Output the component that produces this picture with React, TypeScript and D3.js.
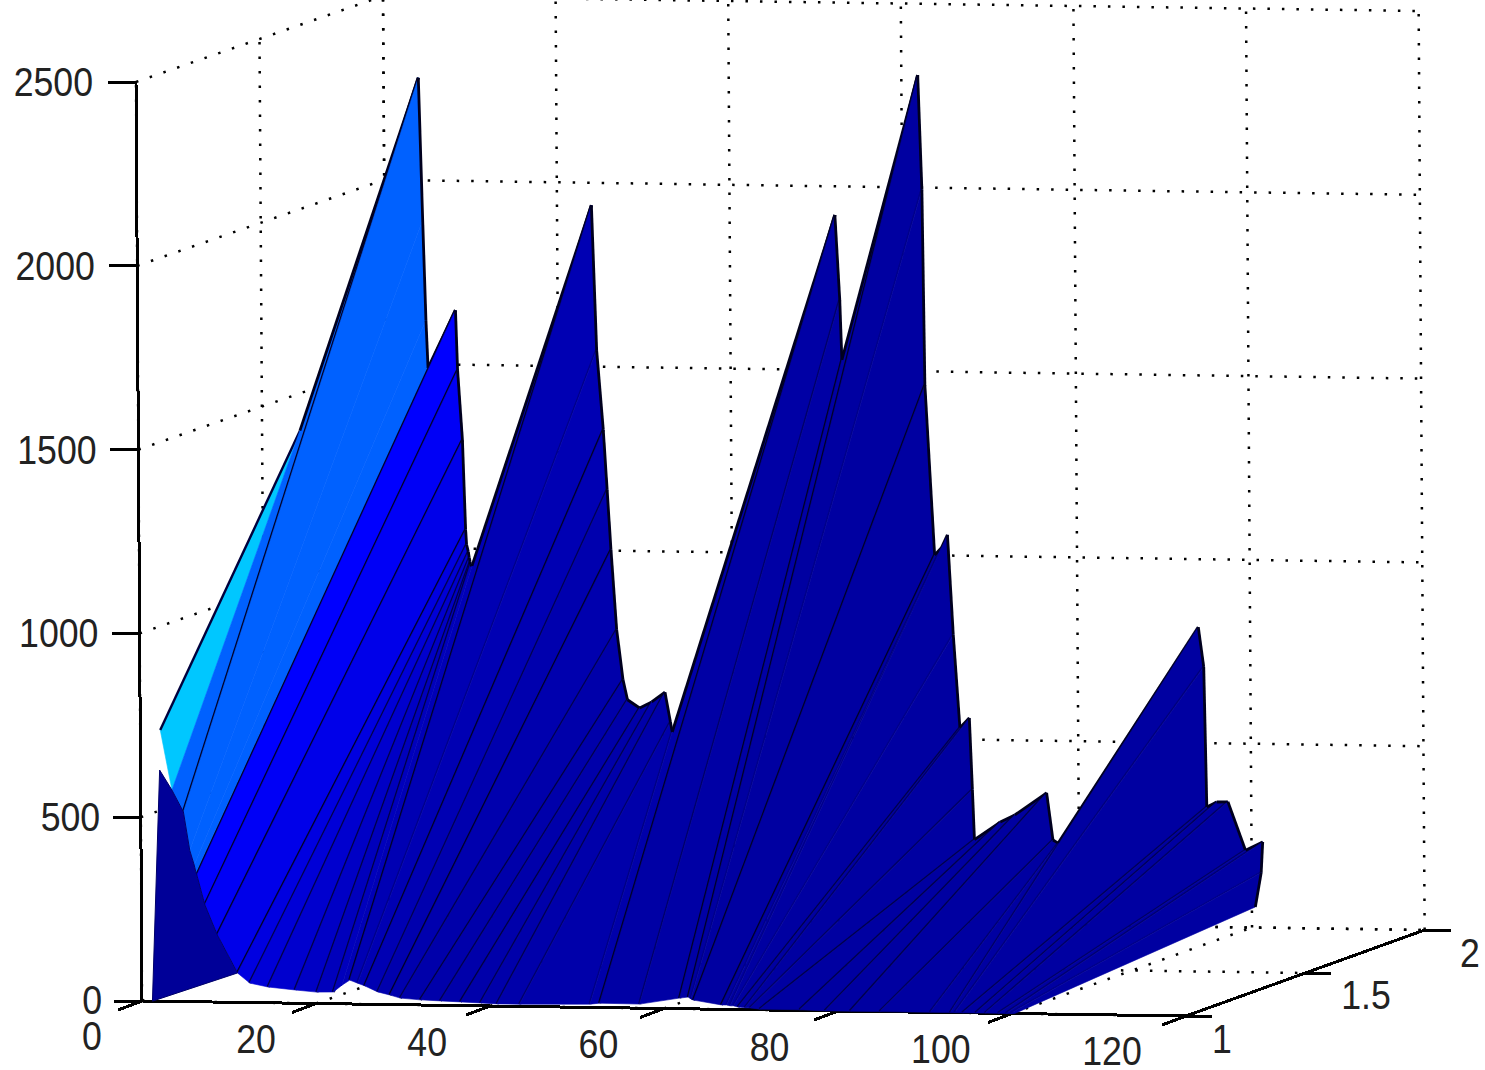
import React from "react";
import * as d3 from "d3";

// tick values
const xTicks = [0, 20, 40, 60, 80, 100, 120];
const yTicks = [1, 1.5, 2];
const zTicks = [0, 500, 1000, 1500, 2000, 2500];

// surface rows: front row sits at y=1, back row at backY
const frontX = [2.3, 3.6, 4.9, 5.6, 6.1, 6.3, 6.4, 7.3, 8.7, 11, 12.4, 14.5, 17.6, 20.1, 22, 23, 23.9, 24.8, 25.6, 27.1, 28.5, 29.7, 32, 34.3, 36.6, 38.9, 40.8, 43.4, 51.5, 52.6, 57.2, 61.8, 62.8, 63.1, 63.4, 66.6, 67.2, 67.6, 68, 68.5, 69.3, 69.9, 71, 75.6, 78.5, 81.4, 84.8, 90.6, 92.9, 93.4, 94.3, 95.8, 96.9, 98.4, 99.3, 99.8, 100.3];
const frontZ = [738, 575, 516, 412, 372, 352, 345, 264, 183, 80, 53, 43, 36, 31, 32, 51, 65, 57, 50, 34, 26, 18, 14, 12, 10, 8, 6, 6, 9, 12, 11, 29, 32, 27, 24, 12, 12, 10, 10, 7, 5, 5, 2, 2, 0, 0, 0, 0, 0, 0, 0, 0, 0, 0, 0, 0, 0];
const backX = [4.37, 4.37, 4.03, 4.43, 4.73, 4.94, 8.16, 8.36, 8.87, 9.17, 9.27, 9.47, 9.57, 9.67, 9.67, 9.88, 23.99, 24.49, 25.2, 25.6, 26, 26.6, 27.3, 27.8, 29.2, 30.6, 32.15, 32.76, 32.96, 52.2, 52.7, 52.9, 61.9, 62.3, 62.5, 63.5, 64.3, 65, 65.6, 66.3, 67.4, 67.7, 67.9, 70.9, 72.6, 76.3, 77, 77.6, 94, 94.6, 94.85, 96, 97.3, 99.3, 101.3, 101.1, 100.4];
const backY = [1.5, 1.5, 2, 2, 2, 2, 2, 2, 2, 2, 2, 2, 2, 2, 2, 2, 2, 2, 2, 2, 2, 2, 2, 2, 2, 2, 2, 2, 2, 2, 2, 2, 2, 2, 2, 2, 2, 2, 2, 2, 2, 2, 2, 2, 2, 2, 2, 2, 2, 2, 2, 2, 2, 2, 2, 2, 2];
const backZ = [1436, 1436, 2279, 1892, 1620, 1490, 1648, 1485, 1295, 1051, 1011, 991, 975, 964, 956, 953, 1939, 1545, 1328, 1165, 1002, 785, 649, 595, 573, 590, 617, 536, 509, 1922, 1691, 1528, 2306, 1994, 1463, 1001, 1021, 1056, 785, 532, 559, 364, 228, 277, 297, 358, 230, 222, 815, 707, 326, 340, 341, 210, 233, 149, 56];
// colour index of the face that starts at each rib
const faceLevel = [0.32, 0.22, 0.22, 0.22, 0.22, 0.22, 0.125, 0.115, 0.1, 0.09, 0.08, 0.07, 0.06, 0.05, 0.05, 0.045, 0.04, 0.04, 0.04, 0.035, 0.035, 0.03, 0.03, 0.03, 0.03, 0.03, 0.03, 0.03, 0.03, 0.025, 0.025, 0.025, 0.02, 0.02, 0.02, 0.02, 0.02, 0.02, 0.02, 0.02, 0.02, 0.02, 0.02, 0.02, 0.02, 0.02, 0.02, 0.02, 0.02, 0.02, 0.02, 0.02, 0.02, 0.02, 0.02, 0.02, 0.02];
// how dark each rib line reads
const ribDark = [1, 0, 1, 0, 0, 0, 1, 1, 1, 1, 0.8, 0.8, 0.8, 0.8, 0.8, 0, 1, 0.3, 1, 0.7, 1, 0.7, 0.8, 0.7, 0.8, 0.7, 0.7, 0.5, 0.3, 1, 0.5, 1, 1, 0.2, 1, 1, 0.2, 0.2, 0.2, 0.7, 0.5, 0.5, 0.7, 0.7, 0.7, 0.7, 0.6, 0.4, 0.5, 0.3, 0.6, 0.6, 0.5, 0.5, 0.4, 0.2, 0];

// the navy skirt in the lower left corner
const skirtX = [1.2, 2.2];
const skirtZ = [0, 629];

const xPos = d3.scaleLinear().domain([0, 120]).range([0, 1044]);
const xDrop = d3.scaleLinear().domain([0, 120]).range([0, 15]);
const yPos = d3.scaleLinear().domain([1, 2]).range([0, 247]);
const yNarrow = d3.scaleLinear().domain([1, 2]).range([1, 0.992]);
const yRise = d3.scaleLinear().domain([1, 2]).range([0, -86]);
const zPos = d3.scaleLinear().domain([0, 2500]).range([0, -919]);
const zLean = d3.scaleLinear().domain([0, 2500]).range([0, -6]);

const project = (x: number, y: number, z: number): [number, number] => [
  142 + xPos(x) * yNarrow(y) + yPos(y) + zLean(z),
  1001 + xDrop(x) + yRise(y) + zPos(z),
];

const jet = d3
  .scaleLinear<string>()
  .domain([0, 0.125, 0.375])
  .range(["#00008f", "#0000ff", "#00ffff"]);

const zLabelRight = d3.scaleLinear().domain([0, 2500]).range([102, 93]);
const zLabelY = d3.scaleLinear().domain([0, 2500]).range([1000, 82]);
const xLabelX = d3.scaleLinear().domain([0, 20, 120]).range([92, 256, 1112]);
const xLabelY = d3.scaleLinear().domain([0, 20, 120]).range([1036, 1039, 1051]);
const yLabelX = d3.scaleLinear().domain([1, 1.5, 2]).range([1222, 1366, 1470]);
const yLabelY = d3.scaleLinear().domain([1, 1.5, 2]).range([1039, 995, 953]);

const lineGen = d3.line();
const seg = (a: [number, number, number], b: [number, number, number]) =>
  lineGen([project(...a), project(...b)]) as string;

const Label = ({ x, y, anchor, children }: any) => (
  <text
    transform={`translate(${x},${y}) scale(0.87,1)`}
    textAnchor={anchor}
    dominantBaseline="central"
    fontFamily="'Liberation Sans', Arial, sans-serif"
    fontSize={41}
    fill="#222"
  >
    {children}
  </text>
);

const App = () => {
  const front = frontX.map((x, i) => project(x, 1, frontZ[i]));
  const back = backX.map((x, i) => project(x, backY[i], backZ[i]));

  const grid: string[] = [];
  xTicks.forEach((t) => {
    grid.push(seg([t, 2, 0], [t, 2, 2500]));
    grid.push(seg([t, 1, 0], [t, 2, 0]));
  });
  zTicks.forEach((t) => {
    grid.push(seg([0, 2, t], [120, 2, t]));
    grid.push(seg([0, 1, t], [0, 2, t]));
  });
  yTicks.forEach((t) => {
    grid.push(seg([0, t, 0], [120, t, 0]));
    grid.push(seg([0, t, 0], [0, t, 2500]));
  });

  const skirt = [
    ...skirtX.map((x, i) => project(x, 1, skirtZ[i])),
    ...front.slice(1, 10),
  ];

  return (
    <svg
      width="1485"
      height="1070"
      viewBox="0 0 1485 1070"
      style={{ position: "absolute", left: 0, top: 0, background: "#fff" }}
    >
      <defs>
        <filter id="soft" x="-20%" y="-20%" width="140%" height="140%">
          <feGaussianBlur stdDeviation="0.5" />
        </filter>
      </defs>

      <g fill="none" stroke="#000" strokeWidth={2.5} strokeDasharray="2.5 12">
        {grid.map((d, i) => (
          <path key={i} d={d} />
        ))}
      </g>

      <g stroke="#000" strokeWidth={3} fill="none" shapeRendering="crispEdges">
        <path d={seg([0, 1, 0], [0, 1, 2500])} />
        <path d={seg([0, 1, 0], [120, 1, 0])} />
        <path d={seg([120, 1, 0], [120, 2, 0])} />
        {zTicks.map((t) => {
          const [px, py] = project(0, 1, t);
          return <path key={t} d={lineGen([[px - 28, py], [px, py]]) as string} />;
        })}
        {xTicks.map((t) => {
          const [px, py] = project(t, 1, 0);
          return <path key={t} d={lineGen([[px - 24, py + 9], [px, py]]) as string} />;
        })}
        {yTicks.map((t) => {
          const [px, py] = project(120, t, 0);
          return <path key={t} d={lineGen([[px, py], [px + 26, py]]) as string} />;
        })}
      </g>

      <g>
        {front.slice(0, -1).map((f, i) => {
          const d = lineGen([f, front[i + 1], back[i + 1], back[i]]) + "Z";
          return (
            <g key={i}>
              <path d={d} fill={jet(faceLevel[i])} stroke={jet(faceLevel[i])} strokeWidth={0.6} />
              <path
                d={lineGen([back[i], back[i + 1]]) as string}
                stroke="#00001e"
                strokeWidth={2.8}
                fill="none"
              />
              {i === 0 && (
                <path
                  d={lineGen([f, back[i]]) as string}
                  stroke="#00003c"
                  strokeWidth={2.4}
                  fill="none"
                />
              )}
              <path
                d={lineGen([front[i + 1], back[i + 1]]) as string}
                stroke="#000028"
                strokeOpacity={ribDark[i + 1]}
                strokeWidth={3.2}
                fill="none"
                filter="url(#soft)"
              />
            </g>
          );
        })}
        <path d={lineGen(skirt) + "Z"} fill={jet(0.01)} stroke="#00006a" strokeWidth={1} />
      </g>

      {zTicks.map((t) => (
        <Label key={t} x={zLabelRight(t)} y={zLabelY(t)} anchor="end">
          {t}
        </Label>
      ))}
      {xTicks.map((t) => (
        <Label key={t} x={xLabelX(t)} y={xLabelY(t)} anchor="middle">
          {t}
        </Label>
      ))}
      {yTicks.map((t) => (
        <Label key={t} x={yLabelX(t)} y={yLabelY(t)} anchor="middle">
          {t}
        </Label>
      ))}
    </svg>
  );
};

export default App;
